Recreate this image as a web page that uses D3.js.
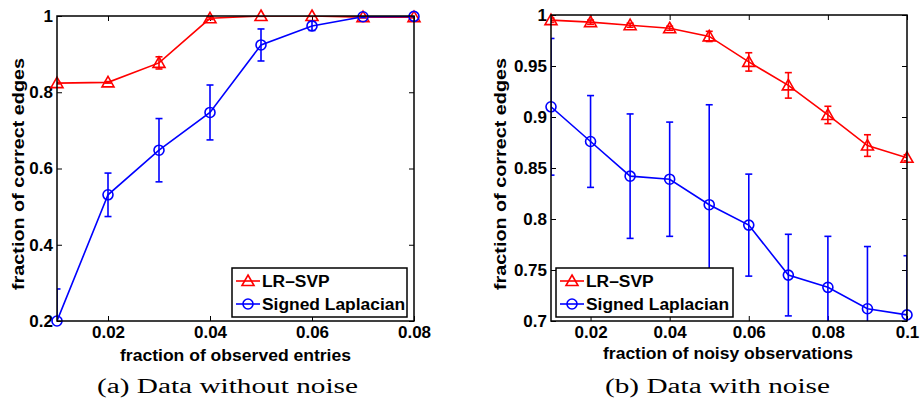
<!DOCTYPE html>
<html>
<head>
<meta charset="utf-8">
<script src="https://cdn.jsdelivr.net/npm/d3@7"></script>
<style>
  body { margin: 0; background: #fff; }
  svg text { font-family: "Liberation Sans", Arial, sans-serif; font-weight: bold; }
</style>
</head>
<body>
<svg id="chart" width="920" height="403"></svg>
<script>
// (a) data without noise
const xA = [0.01, 0.02, 0.03, 0.04, 0.05, 0.06, 0.07, 0.08];
const lrA = [0.824, 0.826, 0.877, 0.994, 1.0, 1.0, 0.997, 0.997];
const lrErrA = [0.002, 0.002, 0.016, 0.003, 0.001, 0.001, 0.002, 0.002];
const slA = [0.2, 0.531, 0.648, 0.747, 0.924, 0.974, 0.998, 0.999];
const slErrA = [0.084, 0.057, 0.083, 0.072, 0.042, 0.012, 0.002, 0.001];
const xTicksA = [0.02, 0.04, 0.06, 0.08];
const yTicksA = [0.2, 0.4, 0.6, 0.8, 1];

// (b) data with noise
const xB = [0.01, 0.02, 0.03, 0.04, 0.05, 0.06, 0.07, 0.08, 0.09, 0.1];
const lrB = [0.995, 0.993, 0.990, 0.987, 0.979, 0.954, 0.931, 0.902, 0.872, 0.860];
const lrErrB = [0.002, 0.002, 0.002, 0.002, 0.005, 0.009, 0.0125, 0.0085, 0.0106, 0.003];
const slB = [0.910, 0.876, 0.842, 0.839, 0.814, 0.794, 0.745, 0.733, 0.712, 0.706];
const slErrB = [0.067, 0.045, 0.061, 0.056, 0.098, 0.05, 0.04, 0.05, 0.061, 0.058];
const xTicksB = [0.02, 0.04, 0.06, 0.08, 0.1];
const yTicksB = [0.7, 0.75, 0.8, 0.85, 0.9, 0.95, 1];

const seriesNames = ["LR\u2013SVP", "Signed Laplacian"];
const seriesColors = ["#ff0000", "#0000ff"];

const svg = d3.select("#chart");

function drawPanel(cfg) {
  const x = d3.scaleLinear().domain(cfg.xDomain).range([cfg.left, cfg.right]);
  const y = d3.scaleLinear().domain(cfg.yDomain).range([cfg.bottom, cfg.top]);
  const g = svg.append("g");

  const clipId = "clip-" + cfg.id;
  g.append("clipPath").attr("id", clipId)
    .append("rect")
    .attr("x", cfg.left).attr("y", cfg.top)
    .attr("width", cfg.right - cfg.left).attr("height", cfg.bottom - cfg.top);

  const fmt = v => String(+v.toFixed(3));

  // axes, ticks pointing inward, mirrored on top/right
  const styleAxis = sel => {
    sel.select(".domain").remove();
    sel.selectAll(".tick line").attr("stroke", "#000").attr("stroke-width", 1);
    sel.selectAll(".tick text").attr("fill", "#000").style("font-size", "17px");
  };
  g.append("g").attr("transform", `translate(0,${cfg.bottom})`)
    .call(d3.axisBottom(x).tickValues(cfg.xTicks).tickSize(-5).tickPadding(5).tickFormat(fmt))
    .call(styleAxis);
  g.append("g").attr("transform", `translate(0,${cfg.top})`)
    .call(d3.axisTop(x).tickValues(cfg.xTicks).tickSize(-5).tickFormat(""))
    .call(styleAxis);
  g.append("g").attr("transform", `translate(${cfg.left},0)`)
    .call(d3.axisLeft(y).tickValues(cfg.yTicks).tickSize(-5).tickPadding(4).tickFormat(fmt))
    .call(styleAxis);
  g.append("g").attr("transform", `translate(${cfg.right},0)`)
    .call(d3.axisRight(y).tickValues(cfg.yTicks).tickSize(-5).tickFormat(""))
    .call(styleAxis);
  g.selectAll(".tick text").attr("font-family", null);

  const plot = g.append("g");
  const clipped = plot.append("g").attr("clip-path", `url(#${clipId})`);

  const line = d3.line().x(d => x(d.x)).y(d => y(d.y));
  const cap = 3.5;

  cfg.series.forEach((s, si) => {
    const pts = cfg.xs.map((xv, i) => ({ x: xv, y: s.vals[i], e: s.errs[i] }));
    const col = seriesColors[si];
    const eb = clipped.append("g").attr("stroke", col).attr("stroke-width", 1.6).attr("fill", "none");
    pts.forEach(p => {
      const px = x(p.x), yt = y(p.y + p.e), yb = y(p.y - p.e);
      eb.append("line").attr("x1", px).attr("x2", px).attr("y1", yt).attr("y2", yb);
      eb.append("line").attr("x1", px - cap).attr("x2", px + cap).attr("y1", yt).attr("y2", yt);
      eb.append("line").attr("x1", px - cap).attr("x2", px + cap).attr("y1", yb).attr("y2", yb);
    });
    clipped.append("path").datum(pts)
      .attr("d", line).attr("fill", "none").attr("stroke", col).attr("stroke-width", 1.6);
    const mk = plot.append("g").attr("stroke", col).attr("stroke-width", 1.6).attr("fill", "none");
    pts.forEach(p => drawMarker(mk, si, x(p.x), y(p.y)));
  });

  // frame
  g.append("rect")
    .attr("x", cfg.left).attr("y", cfg.top)
    .attr("width", cfg.right - cfg.left).attr("height", cfg.bottom - cfg.top)
    .attr("fill", "none").attr("stroke", "#000").attr("stroke-width", 1.5);

  // legend
  const L = cfg.legend;
  const lg = g.append("g");
  lg.append("rect").attr("x", L.x).attr("y", L.y).attr("width", L.w).attr("height", L.h)
    .attr("fill", "#fff").attr("stroke", "#000").attr("stroke-width", 1.5);
  seriesNames.forEach((name, si) => {
    const ly = L.y + 13 + si * 23;
    lg.append("line").attr("x1", L.x + 4).attr("x2", L.x + 28).attr("y1", ly).attr("y2", ly)
      .attr("stroke", seriesColors[si]).attr("stroke-width", 1.6);
    const mk = lg.append("g").attr("stroke", seriesColors[si]).attr("stroke-width", 1.6).attr("fill", "none");
    drawMarker(mk, si, L.x + 16, ly);
    lg.append("text").attr("x", L.x + 30).attr("y", ly + 6).style("font-size", "17.4px").text(name);
  });

  // axis titles
  g.append("text").attr("x", cfg.xTitleX).attr("y", cfg.xTitleY)
    .attr("text-anchor", "middle").style("font-size", "17px")
    .attr("textLength", cfg.xTitleW).attr("lengthAdjust", "spacingAndGlyphs").text(cfg.xTitle);
  g.append("text")
    .attr("transform", `translate(${cfg.yTitleX},174) rotate(-90)`)
    .attr("text-anchor", "middle").style("font-size", "17px")
    .attr("textLength", 232).attr("lengthAdjust", "spacingAndGlyphs").text("fraction of correct edges");

  // caption
  g.append("text").attr("x", cfg.capX).attr("y", 393).attr("text-anchor", "middle")
    .style("font-family", "'Liberation Serif', 'Times New Roman', serif").style("font-weight", "normal")
    .style("font-size", "20px").attr("textLength", cfg.capW).attr("lengthAdjust", "spacingAndGlyphs")
    .text(cfg.caption);
}

function drawMarker(sel, si, cx, cy) {
  if (si === 0) {
    sel.append("path").attr("d", `M${cx},${cy - 6}L${cx + 6},${cy + 4.5}L${cx - 6},${cy + 4.5}Z`);
  } else {
    sel.append("circle").attr("cx", cx).attr("cy", cy).attr("r", 5);
  }
}

drawPanel({
  id: "a", left: 57, right: 414, top: 16, bottom: 321,
  xDomain: [0.01, 0.08], yDomain: [0.2, 1], xTicks: xTicksA, yTicks: yTicksA, xs: xA,
  series: [{ vals: lrA, errs: lrErrA }, { vals: slA, errs: slErrA }],
  legend: { x: 232, y: 268, w: 175, h: 49 },
  xTitle: "fraction of observed entries", xTitleX: 235.5, xTitleW: 231, xTitleY: 361, yTitleX: 24,
  caption: "(a) Data without noise", capX: 227.5, capW: 261
});

drawPanel({
  id: "b", left: 551, right: 907, top: 15, bottom: 321,
  xDomain: [0.01, 0.1], yDomain: [0.7, 1], xTicks: xTicksB, yTicks: yTicksB, xs: xB,
  series: [{ vals: lrB, errs: lrErrB }, { vals: slB, errs: slErrB }],
  legend: { x: 556, y: 268, w: 177, h: 49 },
  xTitle: "fraction of noisy observations", xTitleX: 728, xTitleW: 250, xTitleY: 359, yTitleX: 506,
  caption: "(b) Data with noise", capX: 717.5, capW: 225
});
</script>
</body>
</html>
